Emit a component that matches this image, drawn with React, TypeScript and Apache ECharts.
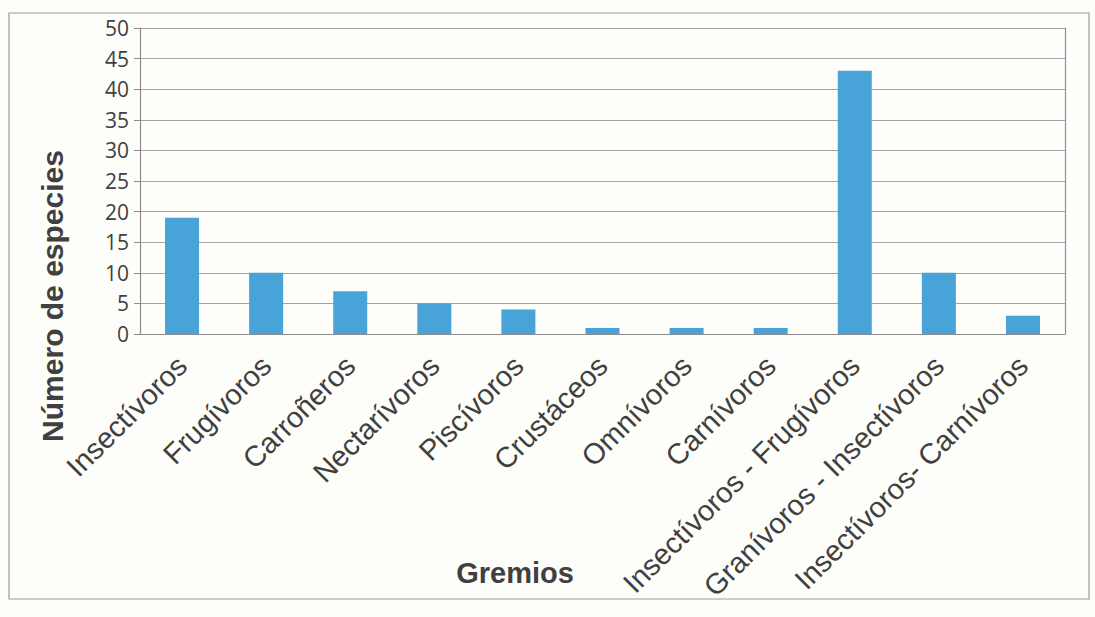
import React, { useEffect, useRef } from "react";
import * as echarts from "echarts";

const categories = [
  "Insectívoros",
  "Frugívoros",
  "Carroñeros",
  "Nectarívoros",
  "Piscívoros",
  "Crustáceos",
  "Omnívoros",
  "Carnívoros",
  "Insectívoros - Frugívoros",
  "Granívoros - Insectívoros",
  "Insectívoros- Carnívoros",
];
const especies = [19, 10, 7, 5, 4, 1, 1, 1, 43, 10, 3];
const yMin = 0;
const yMax = 50;
const yInterval = 5;
const xTitle = "Gremios";
const yTitle = "Número de especies";

export default function App() {
  const ref = useRef<HTMLDivElement>(null);
  useEffect(() => {
    if (!ref.current) return;
    const chart = echarts.init(ref.current, undefined, { renderer: "svg" });
    const textColor = "#404040";
    const font = "Liberation Sans, Arial, sans-serif";
    chart.setOption({
      animation: false,
      backgroundColor: "#fdfdf9",
      graphic: [
        {
          type: "rect",
          shape: { x: 9, y: 13, width: 1080, height: 586 },
          style: { fill: "none", stroke: "#9a9a9a", lineWidth: 1.2 },
          silent: true,
        },
        {
          type: "text",
          x: 515,
          y: 573,
          style: {
            text: xTitle,
            fontFamily: font,
            fontWeight: "bold",
            fontSize: 29,
            fill: textColor,
            align: "center",
            verticalAlign: "middle",
          },
          silent: true,
        },
        {
          type: "text",
          x: 52,
          y: 296,
          rotation: Math.PI / 2,
          style: {
            text: yTitle,
            fontFamily: font,
            fontWeight: "bold",
            fontSize: 30,
            fill: textColor,
            align: "center",
            verticalAlign: "middle",
          },
          silent: true,
        },
      ],
      grid: { left: 140, right: 30, top: 28, bottom: 283 },
      xAxis: {
        type: "category",
        data: categories,
        axisLine: { show: true, lineStyle: { color: "#8c8c8c", width: 1.2 } },
        axisTick: { show: false },
        axisLabel: {
          rotate: 45,
          interval: 0,
          margin: 27,
          fontFamily: font,
          fontSize: 29,
          color: textColor,
        },
      },
      yAxis: [
        {
          type: "value",
          min: yMin,
          max: yMax,
          interval: yInterval,
          axisLine: { show: true, lineStyle: { color: "#8c8c8c", width: 1.2 } },
          axisTick: { show: true, length: 6, lineStyle: { color: "#8c8c8c" } },
          axisLabel: {
            margin: 11,
            fontFamily: "Open Sans, Noto Sans, sans-serif",
            fontSize: 21,
            color: textColor,
          },
          splitLine: { show: true, lineStyle: { color: "#a3a3a3", width: 1.2 } },
        },
        {
          type: "value",
          position: "right",
          min: yMin,
          max: yMax,
          interval: yInterval,
          axisLine: { show: true, lineStyle: { color: "#8a8ac8", width: 1.2 } },
          axisTick: { show: false },
          axisLabel: { show: false },
          splitLine: { show: false },
        },
      ],
      series: [
        {
          type: "bar",
          data: especies,
          barWidth: 34,
          itemStyle: { color: "#47a3d8" },
        },
      ],
    });
    return () => chart.dispose();
  }, []);
  return (
    <div
      ref={ref}
      style={{ position: "absolute", left: 0, top: 0, width: 1095, height: 617 }}
    />
  );
}
